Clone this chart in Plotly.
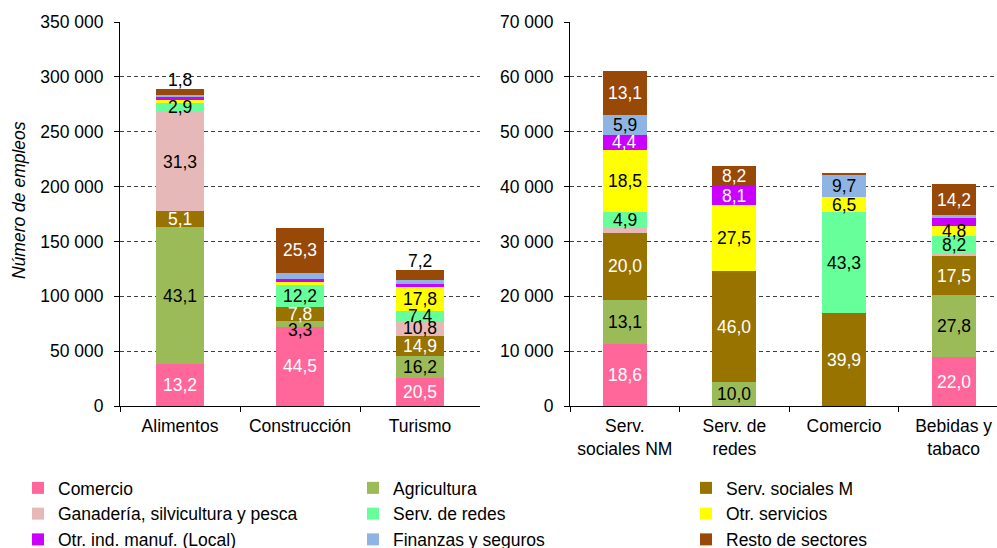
import plotly.graph_objects as go

# ---------------------------------------------------------------------------
# Sectors (stacking order, bottom to top) and their colours
# ---------------------------------------------------------------------------
sectors = [
    "Comercio",
    "Agricultura",
    "Serv. sociales M",
    "Ganadería, silvicultura y pesca",
    "Serv. de redes",
    "Otr. servicios",
    "Otr. ind. manuf. (Local)",
    "Finanzas y seguros",
    "Resto de sectores",
]
sector_colors = ["#FF6699", "#9BBB59", "#997300", "#E6B9B8", "#66FF99",
                 "#FFFF00", "#CC00FF", "#8EB4E3", "#984807"]
label_colors = ["white", "black", "white", "black", "black",
                "black", "white", "black", "white"]

# ---------------------------------------------------------------------------
# Left panel: total jobs and share (%) of each sector
# ---------------------------------------------------------------------------
left_categories = ["Alimentos", "Construcción", "Turismo"]
left_totals = [289000, 162500, 124000]
left_comercio = [13.2, 44.5, 20.5]
left_agricultura = [43.1, 3.3, 16.2]
left_serv_sociales_m = [5.1, 7.8, 14.9]
left_ganaderia = [31.3, 0.0, 10.8]
left_serv_redes = [2.9, 12.2, 7.4]
left_otr_servicios = [0.8, 1.5, 17.8]
left_otr_ind_manuf = [1.0, 1.8, 2.4]
left_finanzas = [0.8, 3.6, 2.8]
left_resto = [1.8, 25.3, 7.2]

# (sector index, category index) of segments printed without a value
left_unlabeled = {(5, 0), (6, 0), (7, 0), (5, 1), (6, 1), (7, 1), (6, 2), (7, 2)}
# labels written just above the top of the bar
left_above = {(8, 0), (8, 2)}
# labels nudged vertically (px) to keep them readable
left_nudge = {(1, 1): -6}

# ---------------------------------------------------------------------------
# Right panel
# ---------------------------------------------------------------------------
right_categories = ["Serv.<br>sociales NM", "Serv. de<br>redes", "Comercio", "Bebidas y<br>tabaco"]
right_totals = [61000, 43800, 42400, 40500]
right_comercio = [18.6, 0.0, 0.0, 22.0]
right_agricultura = [13.1, 10.0, 0.0, 27.8]
right_serv_sociales_m = [20.0, 46.0, 39.9, 17.5]
right_ganaderia = [1.5, 0.0, 0.0, 0.9]
right_serv_redes = [4.9, 0.0, 43.3, 8.2]
right_otr_servicios = [18.5, 27.5, 6.5, 4.8]
right_otr_ind_manuf = [4.4, 8.1, 0.0, 3.5]
right_finanzas = [5.9, 0.0, 9.7, 1.1]
right_resto = [13.1, 8.2, 0.6, 14.2]

right_unlabeled = {(3, 0), (8, 2), (3, 3), (6, 3), (7, 3)}
right_above = set()
right_nudge = {}

left_shares = [left_comercio, left_agricultura, left_serv_sociales_m, left_ganaderia,
               left_serv_redes, left_otr_servicios, left_otr_ind_manuf, left_finanzas,
               left_resto]
right_shares = [right_comercio, right_agricultura, right_serv_sociales_m, right_ganaderia,
                right_serv_redes, right_otr_servicios, right_otr_ind_manuf, right_finanzas,
                right_resto]

# three legend columns, filled row by row
legend_of_sector = ["legend", "legend2", "legend3"] * 3

FONT = "Liberation Sans, Arial, sans-serif"
FS = 17.5
W, H = 997, 548

fig = go.Figure()
annotations = []


def fmt(v):
    return f"{v:.1f}".replace(".", ",")


def add_panel(categories, totals, shares, unlabeled, above, nudge, xa, ya, show_legend):
    for s, name in enumerate(sectors):
        jobs = [t * p / 100.0 for t, p in zip(totals, shares[s])]
        fig.add_trace(go.Bar(
            x=categories, y=jobs, name=name,
            marker=dict(color=sector_colors[s], line=dict(width=0)),
            xaxis=xa, yaxis=ya,
            legendgroup=name, showlegend=show_legend,
            legend=legend_of_sector[s],
            hovertemplate="%{x}: %{y:,.0f}<extra>" + name + "</extra>",
        ))
    for c, cat in enumerate(categories):
        base = 0.0
        for s in range(len(sectors)):
            p = shares[s][c]
            v = totals[c] * p / 100.0
            if p > 0 and (s, c) not in unlabeled:
                if (s, c) in above:
                    annotations.append(dict(
                        x=cat, y=totals[c], xref=xa, yref=ya, text=fmt(p),
                        showarrow=False, yanchor="bottom", yshift=-3,
                        font=dict(family=FONT, size=FS, color="black")))
                else:
                    annotations.append(dict(
                        x=cat, y=base + v / 2, xref=xa, yref=ya, text=fmt(p),
                        showarrow=False, yanchor="middle",
                        yshift=nudge.get((s, c), 0),
                        font=dict(family=FONT, size=FS, color=label_colors[s])))
            base += v


add_panel(left_categories, left_totals, left_shares, left_unlabeled, left_above,
          left_nudge, "x", "y", True)
add_panel(right_categories, right_totals, right_shares, right_unlabeled, right_above,
          right_nudge, "x2", "y2", False)

# y-axis title
annotations.append(dict(
    x=19 / W, y=1 - 200 / H, xref="paper", yref="paper",
    xanchor="center", yanchor="middle",
    text="<i>Número de empleos</i>", textangle=-90, showarrow=False,
    font=dict(family=FONT, size=FS, color="black")))

y_dom = [1 - 406 / H, 1 - 22 / H]
common_x = dict(type="category", showline=True, linecolor="black", linewidth=1,
                ticks="outside", tickson="boundaries", ticklen=5, tickcolor="black",
                showgrid=False, zeroline=False, automargin=False, ticklabelstandoff=4,
                tickfont=dict(family=FONT, size=FS, color="black"))
common_y = dict(showline=True, linecolor="black", linewidth=1,
                ticks="outside", ticklen=5, tickcolor="black",
                showgrid=True, gridcolor="#404040", gridwidth=1, griddash="4px,3px",
                zeroline=False, automargin=False, tickformat=",d", ticklabelstandoff=7,
                tickfont=dict(family=FONT, size=FS, color="black"))

legend_common = dict(orientation="v", xanchor="left", yanchor="top",
                     bgcolor="rgba(0,0,0,0)", borderwidth=0, tracegroupgap=0,
                     font=dict(family=FONT, size=FS, color="black"))
legend_top = 1 - 470 / H

fig.update_layout(
    width=W, height=H,
    margin=dict(l=0, r=0, t=0, b=0, autoexpand=False),
    paper_bgcolor="white", plot_bgcolor="white",
    barmode="stack", bargap=0.6,
    separators=", ",
    font=dict(family=FONT, size=FS, color="black"),
    xaxis=dict(domain=[120 / W, 480 / W], range=[-0.5, 2.5], anchor="y", **common_x),
    yaxis=dict(domain=y_dom, range=[0, 350000], dtick=50000, anchor="x", **common_y),
    xaxis2=dict(domain=[570 / W, 1.0], range=[-0.5, 3.396], anchor="y2", **common_x),
    yaxis2=dict(domain=y_dom, range=[0, 70000], dtick=10000, anchor="x2", **common_y),
    legend=dict(x=18 / W, y=legend_top, **legend_common),
    legend2=dict(x=353 / W, y=legend_top, **legend_common),
    legend3=dict(x=686 / W, y=legend_top, **legend_common),
    annotations=annotations,
)

fig.write_html("out.html")
